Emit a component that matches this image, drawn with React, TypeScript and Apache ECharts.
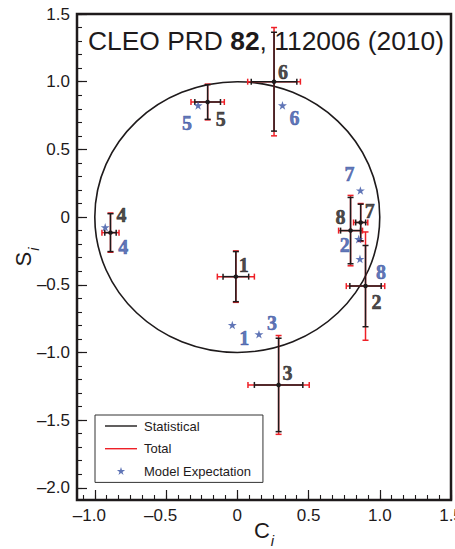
import React, { useEffect, useRef } from 'react';
import * as echarts from 'echarts';

// Bin numbers and measured (c_i, s_i) with statistical and total uncertainties
const binIds = ['1', '2', '3', '4', '5', '6', '7', '8'];
const cValues = [-0.01, 0.9, 0.29, -0.89, -0.208, 0.258, 0.866, 0.795];
const sValues = [-0.44, -0.51, -1.24, -0.115, 0.85, 1.0, -0.04, -0.1];
const cStatErr = [0.09, 0.11, 0.17, 0.04, 0.09, 0.16, 0.035, 0.07];
const cTotalErr = [0.13, 0.135, 0.215, 0.06, 0.117, 0.185, 0.05, 0.084];
const sStatErr = [0.185, 0.3, 0.345, 0.14, 0.128, 0.365, 0.135, 0.245];
const sTotalErr = [0.19, 0.4, 0.365, 0.145, 0.132, 0.4, 0.14, 0.26];

// Model expectation for each bin
const modelC = [-0.035, 0.852, 0.152, -0.927, -0.275, 0.317, 0.864, 0.861];
const modelS = [-0.797, -0.163, -0.866, -0.075, 0.825, 0.825, 0.196, -0.309];

// Physical boundary c^2 + s^2 = 1: centre and radius
const boundaryCircle = [0, 0, 1];

// Axis ticks
const xTicks = [-1, -0.5, 0, 0.5, 1, 1.5];
const yTicks = [-2, -1.5, -1, -0.5, 0, 0.5, 1, 1.5];
const X_MIN = -1.125;
const X_MAX = 1.5;
const Y_MIN = -2.09;
const Y_MAX = 1.5;

// ---- styling ----
const INK = '#1e1a1b';
const RED = '#ee2027';
const BLUE = '#3853a4';
const SANS = 'Liberation Sans';
const SERIF = 'Liberation Serif';

// label offsets (px) for the bin numbers
const measuredTagOffset = [[8, -12], [11, 16], [9, -12], [11, -18], [13, 17], [9, -10], [9, -11], [-10, -14]];
const modelTagOffset = [[12, 13], [-14, 6], [13, -11], [18, 20], [-11, 18], [12, 13], [-11, -17], [21, 13]];

const xMinorTicks: number[] = [];
for (let k = -13; k <= 18; k++) xMinorTicks.push(+(k * (0.5 / 6)).toFixed(4));
const yMinorTicks: number[] = [];
for (let k = -20; k <= 15; k++) yMinorTicks.push(+(k * 0.1).toFixed(2));

function starD(cx: number, cy: number, R: number) {
  let d = '';
  for (let k = 0; k < 10; k++) {
    const a = -Math.PI / 2 + (k * Math.PI) / 5;
    const rad = k % 2 === 0 ? R : R * 0.382;
    d += (k === 0 ? 'M' : 'L') + (cx + rad * Math.cos(a)).toFixed(2) + ',' + (cy + rad * Math.sin(a)).toFixed(2);
  }
  return d + 'Z';
}

const starSymbol = 'path://' + starD(50, 50, 50);
const legendLineIcon = 'path://M0,0M34,14M0,6.3L32,6.3L32,7.7L0,7.7Z';
const legendStarIcon = 'path://M0,0M34,14' + starD(16, 7, 4.3);

const tickFmt = (v: number) => {
  if (Math.abs(v) < 1e-9) return '0';
  if (v < 0) return '{neg|\u2013' + Math.abs(v).toFixed(1) + '}';
  return v.toFixed(1);
};

const CAP = 3;
function errorBars(color: string, withDot: boolean) {
  return (_params: any, api: any) => {
    const c = api.value(0);
    const s = api.value(1);
    const ex = api.value(2);
    const ey = api.value(3);
    const ctr = api.coord([c, s]);
    const l = api.coord([c - ex, s]);
    const r = api.coord([c + ex, s]);
    const t = api.coord([c, s + ey]);
    const b = api.coord([c, s - ey]);
    const style = { stroke: color, lineWidth: 1.5 };
    const seg = (x1: number, y1: number, x2: number, y2: number) => ({
      type: 'line',
      shape: { x1, y1, x2, y2 },
      style,
    });
    const children: any[] = [
      seg(l[0], l[1], r[0], r[1]),
      seg(t[0], t[1], b[0], b[1]),
      seg(l[0], l[1] - CAP, l[0], l[1] + CAP),
      seg(r[0], r[1] - CAP, r[0], r[1] + CAP),
      seg(t[0] - CAP, t[1], t[0] + CAP, t[1]),
      seg(b[0] - CAP, b[1], b[0] + CAP, b[1]),
    ];
    if (withDot) {
      children.push({ type: 'circle', shape: { cx: ctr[0], cy: ctr[1], r: 2.3 }, style: { fill: color } });
    }
    return { type: 'group', children };
  };
}

const statData = cValues.map((c, i) => [c, sValues[i], cStatErr[i], sStatErr[i]]);
const totalData = cValues.map((c, i) => [c, sValues[i], cTotalErr[i], sTotalErr[i]]);

const axisTextStyle = { fontFamily: SANS, fontSize: 17, color: INK };
const nameRich = {
  c: { fontFamily: SANS, fontSize: 22, color: INK, padding: [0, 0, 8, 0] },
  i: { fontFamily: SANS, fontSize: 15, fontStyle: 'italic', color: INK, padding: [12, 0, 0, 1] },
};

const numberLabel = (color: string) => ({
  show: true,
  position: 'inside',
  formatter: (p: any) => binIds[p.dataIndex],
  fontFamily: SERIF,
  fontWeight: 'bold',
  fontSize: 20,
  color,
  textBorderWidth: 0.6,
  textBorderColor: color,
});

const option: any = {
  animation: false,
  backgroundColor: '#fff',
  title: {
    text: '{n|CLEO PRD }{b|82}{n|, 112006 (2010)}',
    left: 88,
    top: 28,
    padding: 0,
    textStyle: {
      fontWeight: 'normal',
      rich: {
        n: { fontFamily: SANS, fontSize: 26.4, fontWeight: 'normal', color: INK },
        b: { fontFamily: SANS, fontSize: 26.4, fontWeight: 'bold', color: INK },
      },
    },
  },
  grid: {
    left: 77,
    right: 4,
    top: 14,
    bottom: 49,
    show: true,
    borderColor: INK,
    borderWidth: 2.5,
    backgroundColor: 'transparent',
    containLabel: false,
    outerBoundsMode: 'none',
  },
  legend: {
    left: 95,
    top: 415,
    orient: 'vertical',
    itemWidth: 34,
    itemHeight: 14,
    itemGap: 8.7,
    padding: [4, 12, 4, 10],
    borderColor: '#333',
    borderWidth: 1,
    backgroundColor: '#fff',
    selectedMode: false,
    symbolKeepAspect: true,
    textStyle: { fontFamily: SANS, fontSize: 13, color: INK },
    data: [
      { name: 'Statistical', icon: legendLineIcon, itemStyle: { color: INK, borderWidth: 0 } },
      { name: 'Total', icon: legendLineIcon, itemStyle: { color: RED, borderWidth: 0 } },
      { name: 'Model Expectation', icon: legendStarIcon, itemStyle: { color: BLUE, borderWidth: 0 } },
    ],
  },
  xAxis: [
    {
      type: 'value',
      min: X_MIN,
      max: X_MAX,
      position: 'bottom',
      name: '{c|C}{i|i}',
      nameLocation: 'middle',
      nameGap: 19,
      nameMoveOverlap: false,
      nameTextStyle: { rich: nameRich },
      axisLine: { show: false, onZero: false },
      splitLine: { show: false },
      axisTick: { inside: true, length: 10, customValues: xTicks, lineStyle: { color: INK, width: 1.2 } },
      axisLabel: {
        customValues: xTicks,
        formatter: tickFmt,
        margin: 7,
        ...axisTextStyle,
        rich: { neg: { ...axisTextStyle, padding: [0, 11, 0, 0] } },
      },
    },
    {
      type: 'value',
      min: X_MIN,
      max: X_MAX,
      position: 'bottom',
      axisLine: { show: false, onZero: false },
      splitLine: { show: false },
      axisLabel: { show: false },
      axisTick: { inside: true, length: 5, customValues: xMinorTicks, lineStyle: { color: INK, width: 1.1 } },
    },
  ],
  yAxis: [
    {
      type: 'value',
      min: Y_MIN,
      max: Y_MAX,
      position: 'left',
      name: '{c|S}{i|i}',
      nameLocation: 'middle',
      nameGap: 35,
      nameMoveOverlap: false,
      nameTextStyle: { rich: nameRich },
      axisLine: { show: false, onZero: false },
      splitLine: { show: false },
      axisTick: { inside: true, length: 10, customValues: yTicks, lineStyle: { color: INK, width: 1.2 } },
      axisLabel: {
        customValues: yTicks,
        formatter: tickFmt,
        margin: 7,
        ...axisTextStyle,
        rich: { neg: { ...axisTextStyle } },
      },
    },
    {
      type: 'value',
      min: Y_MIN,
      max: Y_MAX,
      position: 'left',
      axisLine: { show: false, onZero: false },
      splitLine: { show: false },
      axisLabel: { show: false },
      axisTick: { inside: true, length: 5, customValues: yMinorTicks, lineStyle: { color: INK, width: 1.1 } },
    },
  ],
  series: [
    {
      type: 'custom',
      name: 'boundary',
      silent: true,
      data: [boundaryCircle],
      encode: { x: 0, y: 1 },
      renderItem: (_p: any, api: any) => {
        const ctr = api.coord([api.value(0), api.value(1)]);
        const size = api.size([api.value(2), api.value(2)]);
        return {
          type: 'ellipse',
          shape: { cx: ctr[0], cy: ctr[1], rx: size[0], ry: size[1] },
          style: { fill: 'none', stroke: INK, lineWidth: 1.6 },
        };
      },
      z: 1,
    },
    {
      type: 'custom',
      name: 'Total',
      itemStyle: { color: RED },
      data: totalData,
      encode: { x: 0, y: 1 },
      renderItem: errorBars(RED, false),
      z: 2,
    },
    {
      type: 'custom',
      name: 'Statistical',
      itemStyle: { color: INK },
      data: statData,
      encode: { x: 0, y: 1 },
      renderItem: errorBars(INK, true),
      z: 3,
    },
    {
      type: 'scatter',
      name: 'Model Expectation',
      symbol: starSymbol,
      symbolKeepAspect: true,
      symbolSize: 9,
      itemStyle: { color: BLUE },
      data: modelC.map((c, i) => ({ value: [c, modelS[i]], label: { offset: modelTagOffset[i] } })),
      label: numberLabel(BLUE),
      z: 4,
    },
    {
      type: 'scatter',
      name: 'bin labels',
      silent: true,
      symbolSize: 1,
      itemStyle: { color: 'transparent' },
      data: cValues.map((c, i) => ({ value: [c, sValues[i]], label: { offset: measuredTagOffset[i] } })),
      label: numberLabel(INK),
      z: 5,
    },
  ],
};

export default function App() {
  const ref = useRef<HTMLDivElement>(null);
  useEffect(() => {
    const chart = echarts.init(ref.current!, undefined, { renderer: 'svg' });
    chart.setOption(option);
    return () => chart.dispose();
  }, []);
  return (
    <div
      ref={ref}
      style={{ position: 'fixed', left: 0, top: 0, width: 455, height: 549, background: '#fff' }}
    />
  );
}
